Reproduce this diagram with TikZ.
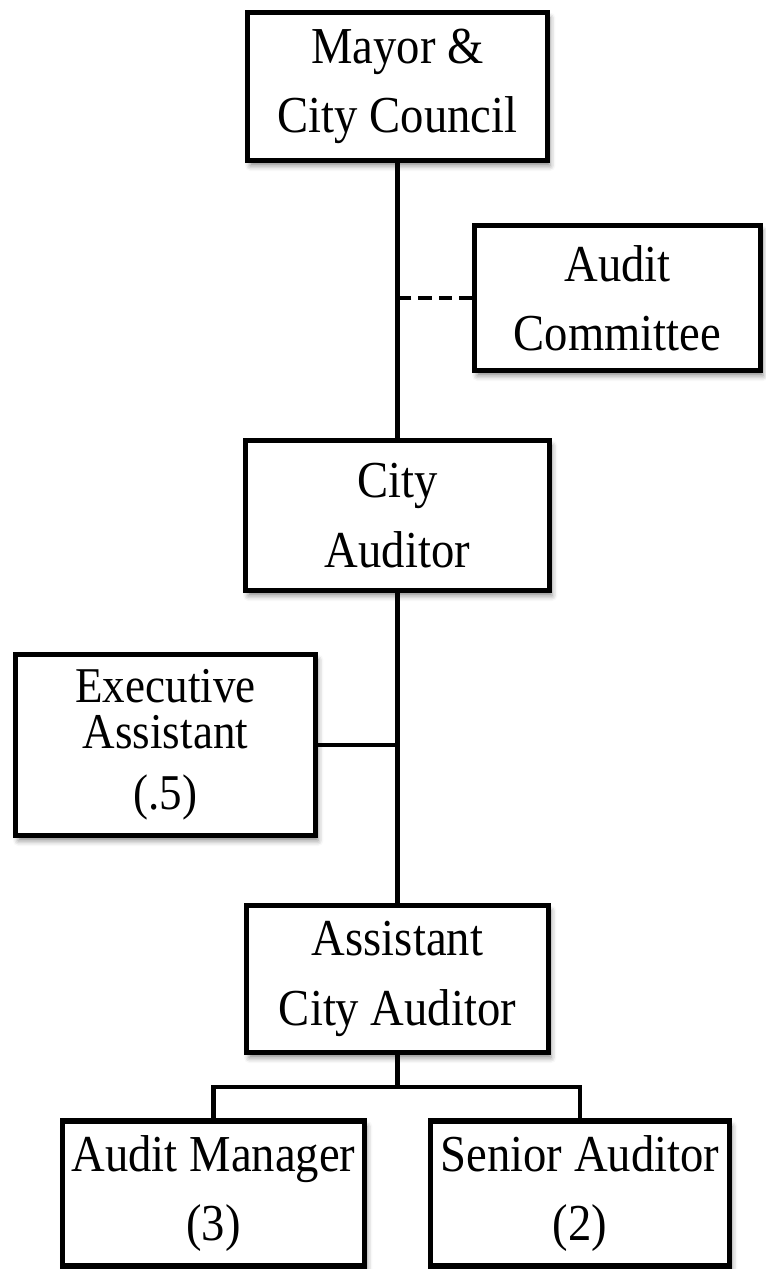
\documentclass[tikz,border=0pt]{standalone}
\usepackage{fontspec}
\setmainfont{Liberation Serif}[FakeStretch=0.9]
\usepackage{tikz}
\usetikzlibrary{shadows.blur}

\begin{document}
\begin{tikzpicture}[x=0.02cm, y=-0.02cm,
  orgbox/.style={draw, line width=2.9pt, fill=white, align=center, inner sep=0pt,
    font=\fontsize{29.5}{39.5}\selectfont,
    blur shadow={shadow xshift=1.5pt, shadow yshift=-3pt, shadow blur radius=3pt, shadow opacity=45}},
  link/.style={line width=2.5pt}]
\useasboundingbox (0,0) rectangle (766,1269);

% Boxes of the chart
\node[orgbox, minimum width=6.0cm, minimum height=2.96cm] (mayor) at (397.5,86.5) {Mayor \&\\City Council};
\node[orgbox, minimum width=5.72cm, minimum height=2.9cm] (committee) at (617.5,298) {Audit\\Committee};
\node[orgbox, minimum width=6.08cm, minimum height=3.0cm] (auditor) at (397.5,515.5) {City\\Auditor};
\node[orgbox, minimum width=6.0cm, minimum height=3.62cm, font=\fontsize{28.5}{26}\selectfont] (execassist) at (165.5,745) {Executive\\Assistant\\[9pt](.5)};
\node[orgbox, minimum width=6.04cm, minimum height=2.94cm] (assistant) at (397.5,979) {Assistant\\City Auditor};
\node[orgbox, minimum width=6.04cm, minimum height=2.9cm] (manager) at (213.5,1193.5) {Audit Manager\\(3)};
\node[orgbox, minimum width=5.98cm, minimum height=2.9cm] (senior) at (580,1193.5) {Senior Auditor\\(2)};

% Reporting lines
\coordinate (branch) at (397.5,1087);
\draw[link] (mayor.south) -- (auditor.north);
\draw[link, dash pattern=on 7.5pt off 4pt] (committee.west) -- (committee.west -| mayor.south);
\draw[link] (auditor.south) -- (assistant.north);
\draw[link] (execassist.east) -- (execassist.east -| auditor.south);
\draw[link] (assistant.south) -- (branch);
\draw[link] (manager.north) |- (branch) -| (senior.north);
\end{tikzpicture}
\end{document}
